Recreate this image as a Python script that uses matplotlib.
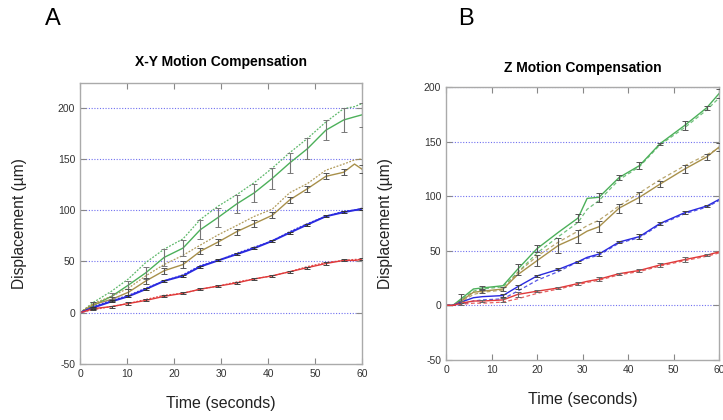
import matplotlib.pyplot as plt
import numpy as np

plt.rcParams['font.family'] = ['Liberation Sans', 'DejaVu Sans']
plt.rcParams['axes.unicode_minus'] = False

# ---- panel A data (X-Y motion compensation) ----
tA = [0, 2.8, 6.7, 10.3, 14, 17.9, 21.9, 25.6, 29.4, 33.3, 37.1, 40.9, 44.6, 48.4, 52.3, 56.1, 58.4, 60]
greenA = [0, 7, 16, 27, 39, 54, 63, 81, 93, 106, 117, 131, 146, 160, 178, 188, 191, 193]
greenA_d = [0, 10, 21, 33, 49, 62, 72, 91, 104, 115, 127, 141, 156, 170, 186, 199, 201, 204]
tanA = [0, 8, 13, 20, 31, 41, 47, 60, 69, 79, 87, 95, 110, 121, 133, 137, 145, 140]
tanA_d = [0, 9, 16, 24, 36, 47, 56, 66, 76, 85, 94, 101, 117, 126, 139, 145, 149, 150]
blueA = [0, 5, 11, 16, 23, 31, 36, 45, 51, 57, 63, 70, 78, 86, 94, 98, 100, 101]
blueA_d = [0, 6, 12, 17, 24, 31, 37, 46, 51, 58, 64, 70, 79, 87, 94, 99, 100, 102]
redA = [0, 4, 6, 9, 12, 16, 19, 23, 26, 29, 33, 36, 40, 44, 48, 51, 51, 52]
redA_d = [0, 3, 6, 9, 13, 17, 19, 23, 26, 30, 33, 36, 40, 45, 49, 51, 52, 52]
errA_green = [0, 3, 3, 4, 6, 8, 8, 9, 9, 9, 9, 10, 10, 10, 10, 12, 0, 12]
errA_tan = [0, 2, 2, 3, 3, 3, 3, 3, 3, 3, 3, 3, 3, 3, 3, 3, 0, 4]
errA_blue = [0, 1, 1, 1, 1, 1, 1, 1, 1, 1, 1, 1, 1, 1, 1, 1, 0, 1]
errA_red = [0, 1, 1, 1, 1, 1, 1, 1, 1, 1, 1, 1, 1, 1, 1, 1, 0, 1]

# ---- panel B data (Z motion compensation) ----
tB = [0, 1.5, 3.3, 6, 8, 12.5, 15.7, 20, 24.7, 29, 31, 33.6, 38, 42.5, 47, 52.5, 57.3, 60]
greenB = [0, 0, 6, 15, 16, 18, 33, 52, 67, 80, 98, 99, 117, 128, 148, 165, 181, 194]
greenB_d = [0, 0, 5, 13, 15, 17, 30, 48, 63, 76, 88, 96, 115, 127, 147, 163, 179, 190]
tanB = [0, 0, 4, 12, 13, 15, 28, 41, 55, 63, 68, 72, 89, 99, 111, 125, 136, 145]
tanB_d = [0, 0, 3, 10, 12, 14, 30, 45, 58, 68, 73, 78, 91, 103, 115, 128, 138, 144]
blueB = [0, 0, 3, 7, 8, 9, 17, 27, 33, 40, 44, 47, 58, 63, 75, 85, 91, 97]
blueB_d = [0, 0, 1, 4, 5, 6, 13, 23, 31, 40, 43, 46, 57, 62, 74, 84, 90, 96]
redB = [0, 0, 2, 4, 4, 5, 10, 13, 16, 20, 22, 24, 29, 32, 37, 42, 46, 49]
redB_d = [0, 0, 1, 2, 2, 3, 6, 11, 15, 19, 21, 23, 28, 31, 36, 41, 45, 48]
errB_green = [0, 0, 4, 0, 2, 0, 5, 3, 0, 4, 0, 4, 2, 3, 1, 4, 2, 4]
errB_tan = [0, 0, 0, 0, 2, 2, 0, 5, 7, 6, 0, 5, 4, 5, 3, 4, 3, 4]
errB_blue = [0, 0, 0, 0, 0, 1, 2, 1, 1, 1, 0, 2, 1, 2, 1, 1, 1, 0]
errB_red = [0, 0, 2, 0, 1, 2, 2, 1, 1, 1, 0, 2, 1, 1, 2, 2, 1, 0]

GREEN = '#4cb05a'
TAN = '#a8904a'
BLUE = '#2a2ae0'
RED = '#e03a3a'
GRID = '#7070f0'


def style_axes(ax, ylim):
    ax.set_xlim(0, 60)
    ax.set_ylim(*ylim)
    ax.set_xticks(range(0, 61, 10))
    ax.set_yticks(range(-50, 201, 50))
    for v in [0, 50, 100, 150, 200]:
        ax.axhline(v, color=GRID, lw=0.8, ls=(0, (1, 1.5)), zorder=0)
    ax.tick_params(direction='in', length=4, width=0.8, colors='#888888',
                   labelcolor='#333333', labelsize=7.5, top=True, right=True)
    for s in ax.spines.values():
        s.set_color('#aaaaaa')
        s.set_linewidth(1.0)
    ax.set_xlabel('Time (seconds)', fontsize=11.5, labelpad=12, color='#222222')
    ax.set_ylabel('Displacement (\u00b5m)', fontsize=11.2, labelpad=22, color='#222222')


def errs(ax, t, y, e, c):
    t = np.array(t); y = np.array(y, float); e = np.array(e, float)
    m = e > 0
    ax.errorbar(t[m], y[m], yerr=e[m], fmt='none', ecolor=c, elinewidth=0.8,
                capsize=2.2, capthick=0.7, zorder=4)


fig = plt.figure(figsize=(7.23, 4.2), dpi=100)

axA = fig.add_axes([0.1107, 0.1333, 0.390, 0.669])
for y, yd, c in [(greenA, greenA_d, GREEN), (tanA, tanA_d, TAN),
                 (blueA, blueA_d, BLUE), (redA, redA_d, RED)]:
    axA.plot(tA, yd, color=c, lw=0.9, ls=(0, (1.5, 1.2)), alpha=0.9)
    axA.plot(tA, y, color=c, lw=1.0 if c != BLUE else 1.4)
errs(axA, tA, greenA, errA_green, '#777777')
errs(axA, tA, tanA, errA_tan, '#555555')
errs(axA, tA, blueA, errA_blue, '#333333')
errs(axA, tA, redA, errA_red, '#444444')
style_axes(axA, (-50, 224))
axA.set_title('X-Y Motion Compensation', fontsize=10, fontweight='bold', pad=12)

axB = fig.add_axes([0.617, 0.1429, 0.3776, 0.65])
for y, yd, c in [(greenB, greenB_d, GREEN), (tanB, tanB_d, TAN),
                 (blueB, blueB_d, BLUE), (redB, redB_d, RED)]:
    axB.plot(tB, yd, color=c, lw=0.9, ls=(0, (3, 2)), alpha=0.8)
    axB.plot(tB, y, color=c, lw=1.0)
errs(axB, tB, greenB, errB_green, '#555555')
errs(axB, tB, tanB, errB_tan, '#555555')
errs(axB, tB, blueB, errB_blue, '#444444')
errs(axB, tB, redB, errB_red, '#666666')
style_axes(axB, (-50, 200))
axB.set_title('Z Motion Compensation', fontsize=10, fontweight='bold', pad=11)

fig.text(0.073, 0.955, 'A', fontsize=17, va='center', ha='center')
fig.text(0.645, 0.955, 'B', fontsize=17, va='center', ha='center')

fig.savefig('out.png', dpi=100)
